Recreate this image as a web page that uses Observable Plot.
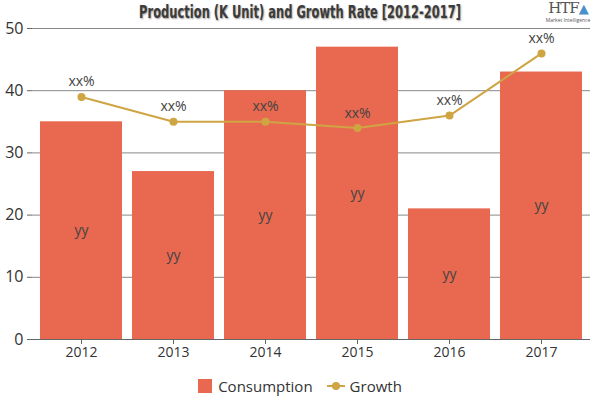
<!DOCTYPE html>
<html><head><meta charset="utf-8">
<script src="https://cdn.jsdelivr.net/npm/d3@7"></script>
<script src="https://cdn.jsdelivr.net/npm/@observablehq/plot@0.6"></script>
<style>
body{margin:0;background:#fff;}
#wrap{position:relative;width:600px;height:400px;overflow:hidden;font-family:"Open Sans","Noto Sans",sans-serif;}
#title{position:absolute;top:1px;left:0;width:600px;text-align:center;}
#title span{display:inline-block;font-family:"DejaVu Sans Condensed","Liberation Sans Narrow",sans-serif;font-weight:bold;font-size:17px;color:#3c3c3c;text-shadow:1px 1px 2px #999;transform-origin:50% 50%;white-space:nowrap;}
#chart{position:absolute;top:0;left:0;}
#legend{position:absolute;top:376px;left:0;width:600px;display:flex;justify-content:center;align-items:center;font-size:15px;color:#333;}
#legend .sw{display:inline-block;width:14px;height:14px;background:#E8694F;margin-right:6px;}
#legend .ln{display:inline-block;position:relative;width:18px;height:14px;margin:0 5px 0 14px;}
#legend .ln:before{content:"";position:absolute;left:0;right:0;top:6px;height:2px;background:#CFA443;}
#legend .ln:after{content:"";position:absolute;left:5px;top:3px;width:8px;height:8px;border-radius:50%;background:#CFA443;}
#logo{position:absolute;top:0px;left:540px;width:56px;text-align:center;color:#555;}
#logo .h{font-family:"DejaVu Serif",serif;font-size:15px;line-height:16px;letter-spacing:-1px;}
#logo .m{font-size:5px;line-height:6px;}
</style></head>
<body><div id="wrap">
<div id="chart"></div>
<div id="title"><span id="tt">Production (K Unit) and Growth Rate [2012-2017]</span></div>
<div id="logo"><div class="h">HTF<span style="color:#4a90c8;font-size:13px">&#9650;</span></div><div class="m">Market Intelligence</div></div>
<div id="legend"><span class="sw"></span>Consumption<span class="ln"></span>Growth</div>
</div>
<script>
const years = ["2012","2013","2014","2015","2016","2017"];
const consumption = [35, 27, 40, 47, 21, 43];
const growth = [39, 35, 35, 34, 36, 46];
const barLabels = ["yy","yy","yy","yy","yy","yy"];
const growthLabels = ["xx%","xx%","xx%","xx%","xx%","xx%"];
const yTicks = [0, 10, 20, 30, 40, 50];

const data = years.map((y, i) => ({year: y, c: consumption[i], g: growth[i], bl: barLabels[i], gl: growthLabels[i]}));

const chart = Plot.plot({
  width: 600,
  height: 360,
  marginTop: 28,
  marginBottom: 21,
  marginLeft: 32,
  marginRight: 10,
  style: {fontFamily: "'Open Sans','Noto Sans',sans-serif", fontSize: "14px", color: "#333", background: "transparent"},
  x: {domain: years, paddingInner: 0.105, paddingOuter: 0.054, axis: null},
  y: {domain: [0, 50], axis: null},
  marks: [
    Plot.ruleY(yTicks, {stroke: "#888", strokeWidth: 1}),
    Plot.barY(data, {x: "year", y: "c", fill: "#E8694F"}),
    Plot.ruleY([0], {stroke: "#666"}),
    Plot.ruleX([0], {x: () => 0, stroke: "#666"}),
    Plot.axisY({ticks: yTicks, tickSize: 5, tickPadding: 4, stroke: "#666", fontSize: 16, fill: "#333", label: null}),
    Plot.axisX({tickSize: 5, tickPadding: 3, stroke: "#666", fontSize: 14, fill: "#333", label: null}),
    Plot.text(data, {x: "year", y: d => d.c / 2, text: "bl", fill: "#444", fontSize: 14}),
    Plot.line(data, {x: "year", y: "g", stroke: "#CFA443", strokeWidth: 2}),
    Plot.dot(data, {x: "year", y: "g", fill: "#CFA443", r: 4}),
    Plot.text(data, {x: "year", y: "g", text: "gl", dy: -15, fill: "#444", fontSize: 14})
  ]
});
document.getElementById("chart").appendChild(chart);
const tt = document.getElementById("tt");
const w = tt.getBoundingClientRect().width;
tt.style.transform = `scaleX(${322 / w})`;
</script>
</body></html>
